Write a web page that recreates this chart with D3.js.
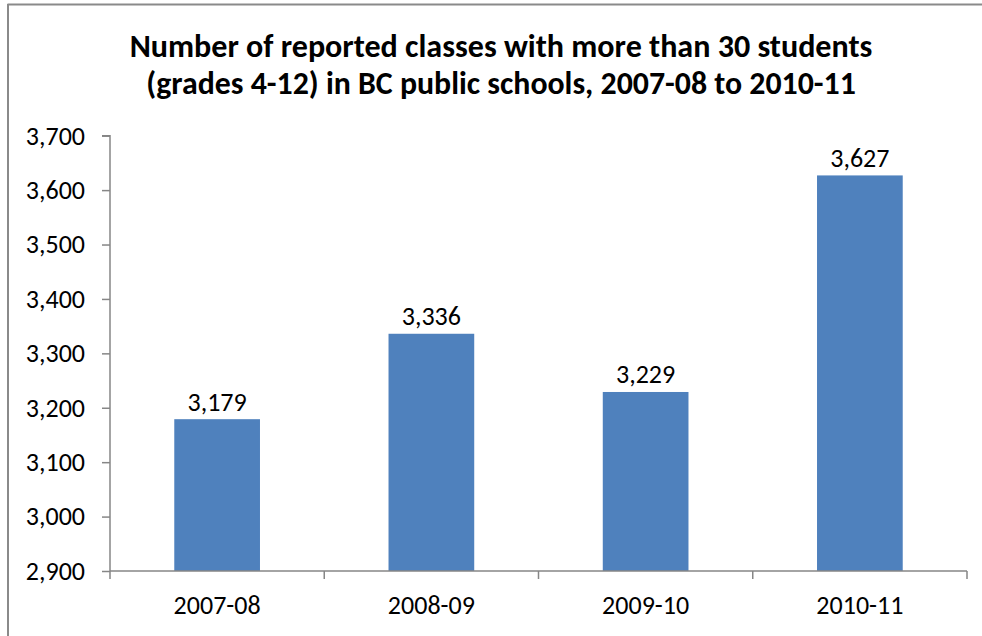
<!DOCTYPE html>
<html><head><meta charset="utf-8">
<script src="https://cdn.jsdelivr.net/npm/d3@7"></script>
<style>
html,body{margin:0;padding:0;background:#fff;}
svg{display:block;}
text{font-family:Carlito,Calibri,"Liberation Sans",Arial,sans-serif;fill:#000;}
</style></head>
<body>
<svg id="c" width="982" height="636"></svg>
<script>
const categories = ["2007-08","2008-09","2009-10","2010-11"];
const values = [3179, 3336, 3229, 3627];
const yTicks = [2900,3000,3100,3200,3300,3400,3500,3600,3700];
const titleLines = ["Number of reported classes with more than 30 students","(grades 4-12) in BC public schools, 2007-08 to 2010-11"];

const svg = d3.select("#c");
const W = 982, H = 636;
const plot = {left:110, right:967, top:135.7, bottom:571};
const axisColor = "#868686";
const fs = 26;

// chart frame (top and left edges visible)
svg.append("line").attr("x1",7.5).attr("x2",W).attr("y1",4.5).attr("y2",4.5).attr("stroke","#8a8a8a").attr("stroke-width",2);
svg.append("line").attr("x1",8).attr("x2",8).attr("y1",4).attr("y2",H).attr("stroke","#8a8a8a").attr("stroke-width",2);

// title
const title = svg.append("g");
const tl = [57, 94];
titleLines.forEach((t,i)=>{
  const el = title.append("text").attr("x",501).attr("y",tl[i]).attr("text-anchor","middle")
    .attr("font-weight","bold").attr("font-size",26).text(t);
  const target = i===0 ? 743 : 710;
  const w = el.node().getComputedTextLength();
  if (w>0) el.attr("font-size", 26*target/w);
});

const x = d3.scaleBand().domain(categories).range([plot.left, plot.right]).paddingInner(0).paddingOuter(0);
const y = d3.scaleLinear().domain([2900,3700]).range([plot.bottom, plot.top]);
const barW = x.bandwidth()*0.4;

// bars
svg.append("g").selectAll("rect").data(values).join("rect")
  .attr("x",(d,i)=>x(categories[i])+x.bandwidth()/2-barW/2)
  .attr("y",d=>y(d))
  .attr("width",barW)
  .attr("height",d=>y(2900)-y(d))
  .attr("fill","#4F81BD");

// data labels
const fmt = d3.format(",");
svg.append("g").selectAll("text").data(values).join("text")
  .attr("x",(d,i)=>x(categories[i])+x.bandwidth()/2)
  .attr("y",d=>y(d)-8.5)
  .attr("text-anchor","middle").attr("font-size",fs)
  .text(d=>fmt(d));

// y axis
const yAxis = d3.axisLeft(y).tickValues(yTicks).tickFormat(fmt).tickSize(8).tickPadding(17);
const gy = svg.append("g").attr("transform",`translate(${plot.left},0)`).call(yAxis);
gy.attr("font-size",null).attr("font-family",null);
gy.select(".domain").attr("stroke",axisColor).attr("stroke-width",1.5).attr("d",`M-8,${plot.top}H0V${plot.bottom}`);
gy.selectAll(".tick line").attr("stroke",axisColor).attr("stroke-width",1.5);
gy.selectAll(".tick text").attr("font-size",fs).attr("fill","#000").attr("dy","0.32em");

// x axis
const xAxis = d3.axisBottom(x).tickSize(0).tickPadding(0);
const gx = svg.append("g").attr("transform",`translate(0,${plot.bottom})`).call(xAxis);
gx.attr("font-size",null).attr("font-family",null);
gx.select(".domain").attr("stroke",axisColor).attr("stroke-width",1.5).attr("d",`M${plot.left},0H${plot.right}`);
gx.selectAll(".tick text").attr("font-size",fs).attr("fill","#000").attr("y",43).attr("dy",0);
// category boundary ticks
const bounds = categories.map(c=>x(c)).concat([plot.right]);
gx.selectAll(".bt").data(bounds).join("line").attr("class","bt")
  .attr("x1",d=>d).attr("x2",d=>d).attr("y1",0).attr("y2",8)
  .attr("stroke",axisColor).attr("stroke-width",1.5);
</script>
</body></html>
